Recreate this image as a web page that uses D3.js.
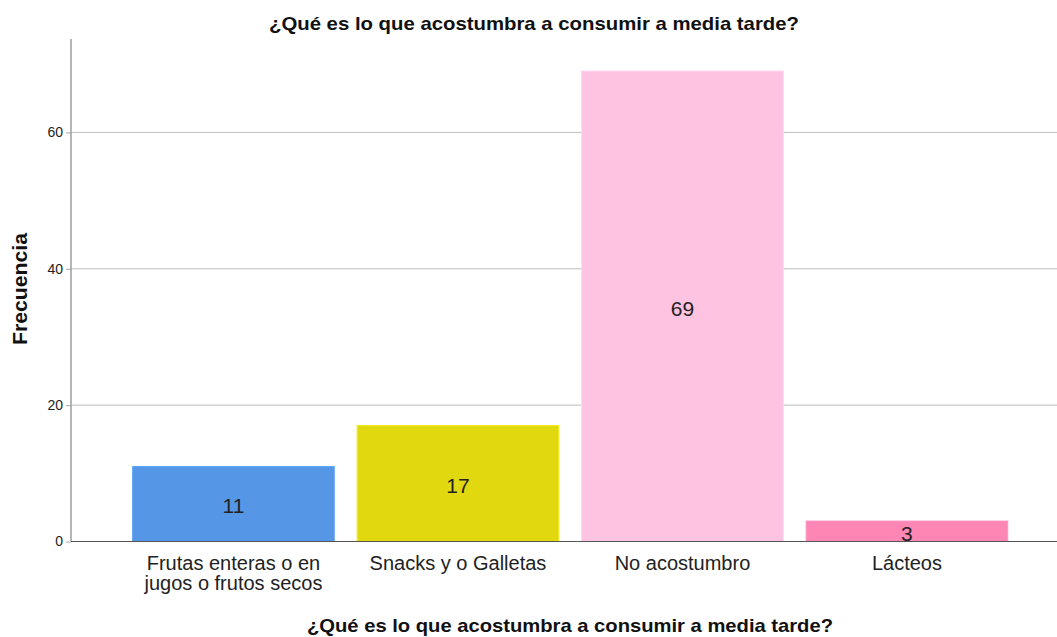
<!DOCTYPE html>
<html>
<head>
<meta charset="utf-8">
<script src="https://cdn.jsdelivr.net/npm/d3@7"></script>
<style>
  html, body { margin: 0; padding: 0; background: #fff; }
  svg { display: block; font-family: "Liberation Sans", Arial, sans-serif; }
</style>
</head>
<body>
<svg id="chart" width="1057" height="637"></svg>
<script>
// Frequency of afternoon snack habits
const categories = [
  ["Frutas enteras o en", "jugos o frutos secos"],
  ["Snacks y o Galletas"],
  ["No acostumbro"],
  ["Lácteos"]
];
const counts = [11, 17, 69, 3];
const barColors = ["#5596e6", "#e1d80f", "#fec3e1", "#fe86b4"];
const yTicks = [0, 20, 40, 60];
const titleText = "¿Qué es lo que acostumbra a consumir a media tarde?";
const yAxisTitle = "Frecuencia";

const svg = d3.select("#chart");
const W = 1057, H = 637;
const plot = { left: 71, top: 39, bottom: 541.5, right: W };

const keys = categories.map(c => c.join(" "));
const x = d3.scaleBand()
  .domain(keys)
  .range([121.2, 1019.2])
  .paddingInner(0.102)
  .paddingOuter(0.051);

const y = d3.scaleLinear()
  .domain([0, 73.7])
  .range([plot.bottom, plot.top]);

// gridlines
svg.append("g")
  .selectAll("line")
  .data(yTicks.filter(t => t > 0))
  .join("line")
  .attr("x1", plot.left).attr("x2", plot.right)
  .attr("y1", d => y(d)).attr("y2", d => y(d))
  .attr("stroke", "#bdbdbd").attr("stroke-width", 1);

// y axis
const yAxis = d3.axisLeft(y).tickValues(yTicks).tickSize(5).tickPadding(3).tickFormat(d3.format("d"));
const gy = svg.append("g").attr("transform", `translate(${plot.left},0)`).call(yAxis);
gy.select(".domain").remove();
gy.selectAll(".tick line").attr("stroke", "#aaa");
gy.selectAll(".tick text").attr("font-size", 14).attr("fill", "#222")
  .attr("font-family", "'Liberation Sans', Arial, sans-serif");
svg.append("line")
  .attr("x1", plot.left).attr("x2", plot.left)
  .attr("y1", plot.top).attr("y2", plot.bottom)
  .attr("stroke", "#9e9e9e").attr("stroke-width", 1.5);

// bars
const data = keys.map((k, i) => ({ key: k, lines: categories[i], value: counts[i], color: barColors[i] }));
svg.append("g")
  .selectAll("rect")
  .data(data)
  .join("rect")
  .attr("x", d => x(d.key))
  .attr("width", x.bandwidth())
  .attr("y", d => y(d.value))
  .attr("height", d => y(0) - y(d.value))
  .attr("fill", d => d.color)
  .attr("stroke", d => d3.color(d.color).brighter(0.25))
  .attr("stroke-width", 1);

// baseline
svg.append("line")
  .attr("x1", plot.left).attr("x2", plot.right)
  .attr("y1", y(0)).attr("y2", y(0))
  .attr("stroke", "#555").attr("stroke-width", 1);

// value labels inside bars
svg.append("g")
  .selectAll("text")
  .data(data)
  .join("text")
  .attr("x", d => x(d.key) + x.bandwidth() / 2)
  .attr("y", d => (y(d.value) + y(0)) / 2)
  .attr("dy", "0.44em")
  .attr("text-anchor", "middle")
  .attr("font-size", 21)
  .attr("fill", "#222")
  .text(d => d.value);

// category labels
const cat = svg.append("g")
  .selectAll("text")
  .data(data)
  .join("text")
  .attr("text-anchor", "middle")
  .attr("font-size", 20)
  .attr("fill", "#222")
  .attr("transform", d => `translate(${x(d.key) + x.bandwidth() / 2},${y(0) + 28.5})`);
cat.selectAll("tspan")
  .data(d => d.lines)
  .join("tspan")
  .attr("x", 0)
  .attr("dy", (d, i) => i === 0 ? 0 : 20)
  .text(d => d);

// titles
svg.append("text")
  .attr("x", 534).attr("y", 30)
  .attr("text-anchor", "middle")
  .attr("font-size", 19).attr("font-weight", "bold").attr("fill", "#111")
  .attr("textLength", 530).attr("lengthAdjust", "spacingAndGlyphs")
  .text(titleText);

svg.append("text")
  .attr("x", 570).attr("y", 632)
  .attr("text-anchor", "middle")
  .attr("font-size", 19).attr("font-weight", "bold").attr("fill", "#111")
  .attr("textLength", 526).attr("lengthAdjust", "spacingAndGlyphs")
  .text(titleText);

svg.append("text")
  .attr("transform", "translate(27,289) rotate(-90)")
  .attr("text-anchor", "middle")
  .attr("font-size", 20).attr("font-weight", "bold").attr("fill", "#111")
  .attr("textLength", 112).attr("lengthAdjust", "spacingAndGlyphs")
  .text(yAxisTitle);
</script>
</body>
</html>
